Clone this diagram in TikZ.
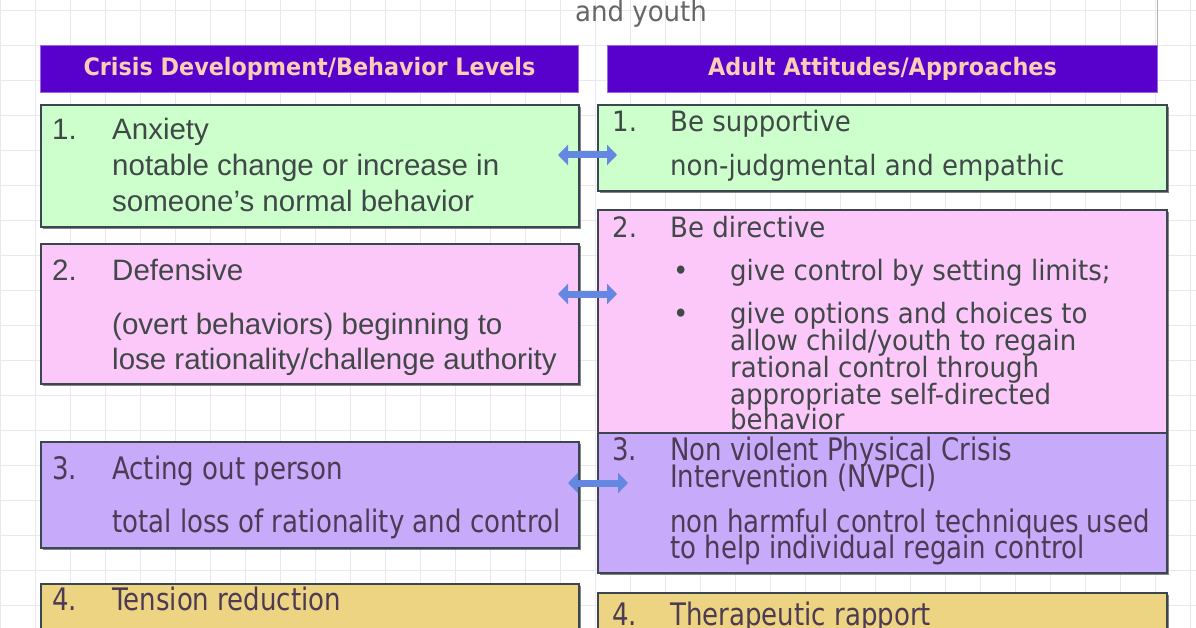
\documentclass[tikz,border=0pt]{standalone}
\usepackage{fontspec}
\setmainfont{Liberation Sans}
\newfontfamily\tahoma[FakeStretch=0.93]{DejaVu Sans}
\newfontfamily\tahomanarrow[FakeStretch=0.84]{DejaVu Sans}
\usetikzlibrary{arrows.meta,shadows}

\definecolor{hdrviolet}{RGB}{88,0,204}
\definecolor{hdrtext}{RGB}{250,205,180}
\definecolor{boxgreen}{RGB}{204,255,204}
\definecolor{boxpink}{RGB}{252,200,250}
\definecolor{boxlilac}{RGB}{200,170,250}
\definecolor{boxtan}{RGB}{236,212,130}
\definecolor{boxedge}{RGB}{60,70,80}
\definecolor{arrowblue}{RGB}{100,135,225}
\definecolor{gridgray}{RGB}{232,232,238}
\definecolor{txtgray}{RGB}{64,72,72}

\tikzset{
	hdr/.style={fill=hdrviolet, draw=hdrviolet!60!white, line width=1pt, anchor=north west, inner sep=0pt, text=hdrtext, font=\tahoma\bfseries\fontsize{24}{28}\selectfont},
	lvlbox/.style={draw=boxedge, line width=1.8pt, anchor=north west, inner sep=0pt, drop shadow={shadow xshift=2pt, shadow yshift=-2.5pt, fill=black!60, opacity=.8}},
	ltxt/.style={anchor=base west, inner sep=0pt, text=txtgray, font=\fontsize{29.5}{34}\selectfont},
	rtxt/.style={anchor=base west, inner sep=0pt, text=txtgray, font=\tahoma\fontsize{28}{32}\selectfont},
	ntxt/.style={anchor=base west, inner sep=0pt, text=txtgray!80!violet, font=\tahomanarrow\fontsize{31}{34}\selectfont},
	dblarrow/.style={arrowblue, line width=7pt, {Triangle[width=20pt,length=10pt]}-{Triangle[width=20pt,length=10pt]}}
}

\begin{document}
\begin{tikzpicture}[x=1pt, y=-1pt]
	\useasboundingbox (0,0) rectangle (1196,628);
	% background grid
	\foreach \gx in {0,35,...,1190} \draw[gridgray, line width=0.8pt] (\gx,0) -- (\gx,628);
	\foreach \gy in {10,45,...,628} \draw[gridgray, line width=0.8pt] (0,\gy) -- (1196,\gy);
	\draw[black!30, line width=1pt] (1157,0) -- (1157,45);
	\node[rtxt, anchor=base, text=black!60] (title) at (641,22) {and youth};

	% headers
	\node[hdr, minimum width=538pt, minimum height=47pt] (hleft) at (40,45) {Crisis Development/Behavior Levels};
	\node[hdr, minimum width=550pt, minimum height=47pt] (hright) at (607,45) {Adult Attitudes/Approaches};

	% boxes
	\node[lvlbox, fill=boxgreen, minimum width=538pt, minimum height=122pt] (l1) at (40,104) {};
	\node[lvlbox, fill=boxpink, minimum width=538pt, minimum height=140pt] (l2) at (40,243) {};
	\node[lvlbox, fill=boxlilac, minimum width=538pt, minimum height=106pt] (l3) at (40,441) {};
	\node[lvlbox, fill=boxtan, minimum width=538pt, minimum height=80pt] (l4) at (40,583) {};
	\node[lvlbox, fill=boxgreen, minimum width=569pt, minimum height=86pt] (r1) at (597,104) {};
	\node[lvlbox, fill=boxpink, minimum width=569pt, minimum height=223pt] (r2) at (597,209) {};
	\node[lvlbox, fill=boxlilac, minimum width=569pt, minimum height=140pt] (r3) at (597,432) {};
	\node[lvlbox, fill=boxtan, minimum width=569pt, minimum height=80pt] (r4) at (597,592) {};

	% left texts
	\path (52,140) node[ltxt] (n1) {1.}
		(112,140) node[ltxt] (t1a) {Anxiety}
		(112,176) node[ltxt] (t1b) {notable change or increase in}
		(112,212) node[ltxt] (t1c) {someone's normal behavior}
		(52,280) node[ltxt] (n2) {2.}
		(112,280) node[ltxt] (t2a) {Defensive}
		(112,334) node[ltxt] (t2b) {(overt behaviors) beginning to}
		(112,369) node[ltxt] (t2c) {lose rationality/challenge authority}
		(52,479) node[ntxt] (n3) {3.}
		(112,479) node[ntxt] (t3a) {Acting out person}
		(112,532) node[ntxt] (t3b) {total loss of rationality and control}
		(52,610) node[ntxt] (n4) {4.}
		(112,610) node[ntxt] (t4a) {Tension reduction};

	% right texts
	\path (612,132) node[rtxt] (m1) {1.}
		(670,132) node[rtxt] (s1a) {Be supportive}
		(670,176) node[rtxt] (s1b) {non-judgmental and empathic}
		(612,238) node[rtxt] (m2) {2.}
		(670,238) node[rtxt] (s2a) {Be directive}
		(673,280) node[rtxt] (b1) {\textbullet}
		(730,280) node[rtxt] (s2b) {give control by setting limits;}
		(673,323) node[rtxt] (b2) {\textbullet}
		(730,323) node[rtxt] (s2c) {give options and choices to}
		(730,350) node[rtxt] (s2d) {allow child/youth to regain}
		(730,377) node[rtxt] (s2e) {rational control through}
		(730,404) node[rtxt] (s2f) {appropriate self-directed}
		(730,429) node[rtxt] (s2g) {behavior}
		(612,460) node[ntxt] (m3) {3.}
		(670,460) node[ntxt] (s3a) {Non violent Physical Crisis}
		(670,487) node[ntxt] (s3b) {Intervention (NVPCI)}
		(670,532) node[ntxt] (s3c) {non harmful control techniques used}
		(670,558) node[ntxt] (s3d) {to help individual regain control}
		(612,625) node[ntxt] (m4) {4.}
		(670,625) node[ntxt] (s4a) {Therapeutic rapport};

	% arrows
	\coordinate (a1w) at (558,155); \coordinate (a1e) at (617,155);
	\coordinate (a2w) at (558,294); \coordinate (a2e) at (617,294);
	\coordinate (a3w) at (568,483); \coordinate (a3e) at (628,483);
	\draw[dblarrow] (a1w) -- (a1e);
	\draw[dblarrow] (a2w) -- (a2e);
	\draw[dblarrow] (a3w) -- (a3e);
\end{tikzpicture}
\end{document}
